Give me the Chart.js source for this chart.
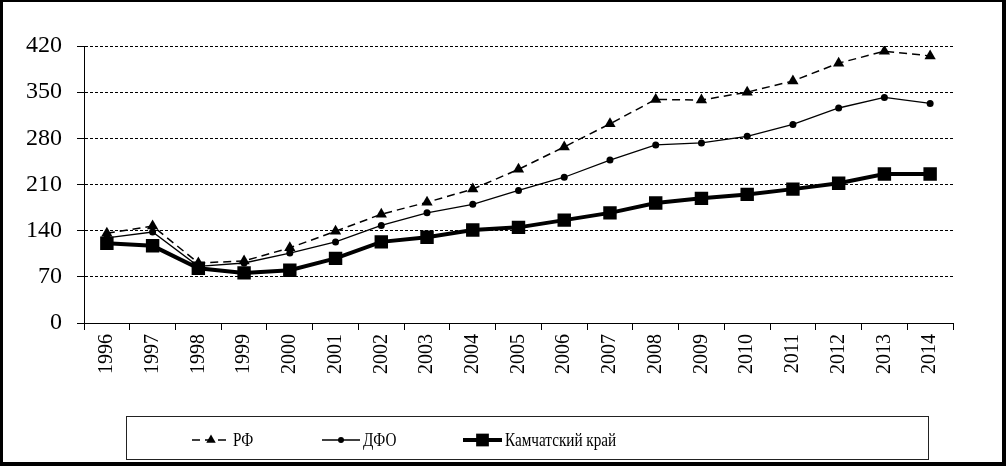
<!DOCTYPE html>
<html>
<head>
<meta charset="utf-8">
<script src="https://cdn.jsdelivr.net/npm/chart.js@4/dist/chart.umd.min.js"></script>
<style>
html,body{margin:0;padding:0;background:#fff;}
canvas{display:block;}
</style>
</head>
<body>
<canvas id="c" width="1006" height="466"></canvas>
<script>
const years = ["1996","1997","1998","1999","2000","2001","2002","2003","2004","2005","2006","2007","2008","2009","2010","2011","2012","2013","2014"];
const rf  = [136,147,91,94,114,139,165,183,203,233,267,302,339,338,350,367,394,412,405];
const dfo = [129,138,86,91,106,123,148,167,180,201,221,247,270,273,283,301,326,342,333];
const kam = [121,117,83,76,80,98,123,130,141,145,156,167,182,189,195,203,212,226,226];
const seriesNames = ["РФ","ДФО","Камчатский край"];
const yTicks = [0,70,140,210,280,350,420];

const FONT = "'Liberation Serif','Times New Roman',serif";

function drawMarker(ctx, style, r, x, y){
  ctx.beginPath();
  if(style==='triangle'){
    ctx.moveTo(x, y - r);
    ctx.lineTo(x + r*0.866, y + r*0.5);
    ctx.lineTo(x - r*0.866, y + r*0.5);
    ctx.closePath();
  } else if(style==='rect'){
    const s = r*Math.SQRT1_2;
    ctx.rect(x - s, y - s, 2*s, 2*s);
  } else {
    ctx.arc(x, y, r, 0, Math.PI*2);
  }
  ctx.fill();
}

const frameAndLegend = {
  id:'frameAndLegend',
  beforeDraw(chart){
    const ctx = chart.ctx;
    ctx.save();
    ctx.fillStyle='#fff';
    ctx.fillRect(0,0,chart.width,chart.height);
    ctx.restore();
  },
  afterDraw(chart){
    const ctx = chart.ctx;
    ctx.save();
    // outer frame
    ctx.fillStyle='#000';
    ctx.fillRect(0,0,3,466);
    ctx.fillRect(0,0,1006,2);
    ctx.fillRect(1002,0,4,466);
    ctx.fillRect(0,462,1006,4);
    // legend box
    ctx.strokeStyle='#222';
    ctx.lineWidth=1;
    ctx.strokeRect(126.5,416.5,802,43);
    const items = [
      {x:192, w:38},
      {x:322, w:38},
      {x:463, w:39}
    ];
    const ly = 440;
    chart.data.datasets.forEach((ds,i)=>{
      const it = items[i];
      ctx.save();
      ctx.strokeStyle='#000';
      ctx.lineWidth = ds.borderWidth;
      ctx.setLineDash(ds.borderDash || []);
      ctx.beginPath();
      ctx.moveTo(it.x, ly);
      ctx.lineTo(it.x+it.w, ly);
      ctx.stroke();
      ctx.setLineDash([]);
      ctx.fillStyle='#000';
      drawMarker(ctx, ds.pointStyle, ds.legendRadius, it.x+it.w/2, ly);
      ctx.restore();
      ctx.save();
      ctx.fillStyle='#000';
      ctx.font = "19px " + FONT;
      ctx.textBaseline='middle';
      ctx.textAlign='left';
      ctx.translate(it.x+it.w+3, ly+1);
      ctx.scale(0.8,1);
      ctx.fillText(ds.label, 0, 0);
      ctx.restore();
    });
    ctx.restore();
  }
};

new Chart(document.getElementById('c'), {
  type:'line',
  data:{
    labels: years,
    datasets:[
      {label:seriesNames[0], data:rf, borderColor:'#000', backgroundColor:'#000', borderWidth:1.5, borderDash:[8,5],
       pointStyle:'triangle', pointRadius:6.5, pointBorderWidth:0, pointBackgroundColor:'#000', legendRadius:5.5, tension:0},
      {label:seriesNames[1], data:dfo, borderColor:'#000', backgroundColor:'#000', borderWidth:1.3,
       pointStyle:'circle', pointRadius:3.5, pointBorderWidth:0, pointBackgroundColor:'#000', legendRadius:3, tension:0},
      {label:seriesNames[2], data:kam, borderColor:'#000', backgroundColor:'#000', borderWidth:4,
       pointStyle:'rect', pointRadius:9.5, pointBorderWidth:0, pointBackgroundColor:'#000', legendRadius:9, tension:0}
    ]
  },
  options:{
    responsive:false,
    devicePixelRatio:1,
    animation:false,
    layout:{padding:{left:0,right:53,top:46,bottom:0}},
    plugins:{legend:{display:false}, tooltip:{enabled:false}},
    scales:{
      x:{
        type:'category',
        offset:true,
        grid:{display:true, drawOnChartArea:false, drawTicks:true, tickLength:7, offset:true, color:'#000', lineWidth:1},
        border:{display:true, color:'#000', width:1},
        ticks:{color:'#000', font:{family:FONT, size:20}, minRotation:90, maxRotation:90, padding:4, autoSkip:false},
        afterFit(scale){ scale.height = 143; }
      },
      y:{
        min:0, max:420,
        afterBuildTicks(scale){ scale.ticks = yTicks.map(v=>({value:v})); },
        grid:{display:true, drawOnChartArea:true, drawTicks:true, tickLength:7, color:'#000', lineWidth:1},
        border:{display:true, color:'#000', width:1, dash:[3,2]},
        ticks:{color:'#000', font:{family:FONT, size:24}, padding:15},
        afterFit(scale){ scale.width = 84; }
      }
    }
  },
  plugins:[frameAndLegend]
});
</script>
</body>
</html>
